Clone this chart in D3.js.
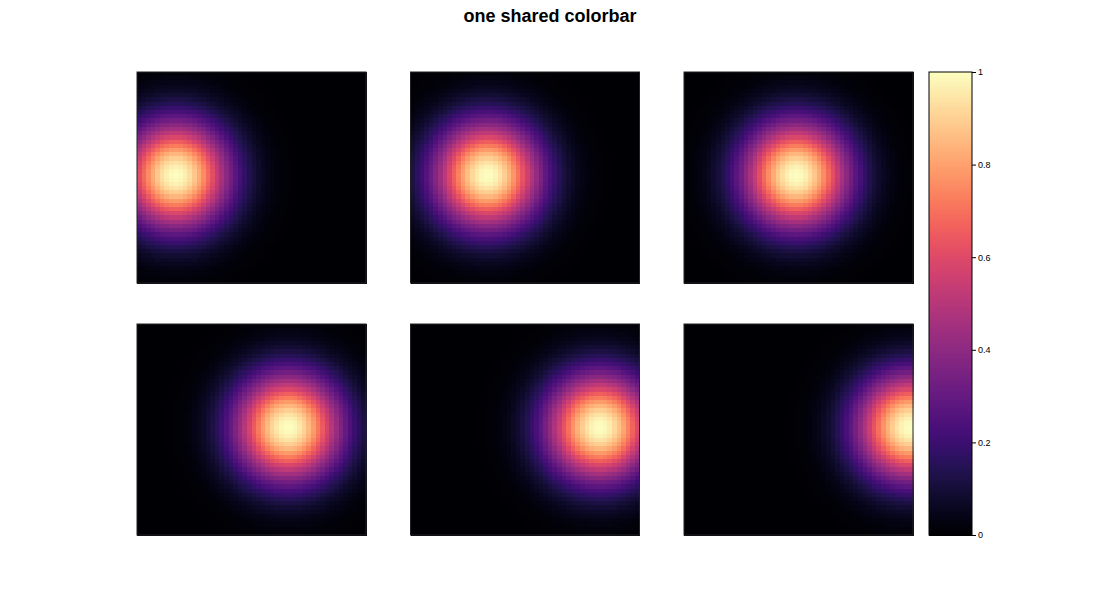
<!DOCTYPE html>
<html>
<head>
<meta charset="utf-8">
<script src="https://cdn.jsdelivr.net/npm/d3@7"></script>
<style>
  body { margin: 0; background: #fff; }
  text { font-family: "Liberation Sans", Arial, sans-serif; }
</style>
</head>
<body>
<svg width="1100" height="600"></svg>
<script>
// grid size of every heatmap (cells per side)
let nx = 50;
let ny = 50;

// blob centre of each panel, in cell units
let centreX = [8.5, 16.8, 24.5, 33.0, 41.3, 49.3];
let centreY = [24.5, 24.5, 24.5, 24.5, 24.5, 24.5];
// spread of the blob, in cells
let spreadX = [8.1, 8.1, 8.1, 8.1, 8.1, 8.1];
let spreadY = [8.8, 8.8, 8.8, 8.8, 8.8, 8.8];

let colorbarTicks = [0, 0.2, 0.4, 0.6, 0.8, 1];
let title = "one shared colorbar";

/******************/

let svg = d3.select("svg");

// panel layout
let panelW = 229, panelH = 211;
let panelX = d3.scalePoint().domain([0, 1, 2]).range([137, 684]);
let panelY = d3.scalePoint().domain([0, 1]).range([72, 324]);

let color = d3.scaleSequential(d3.interpolateMagma).domain([0, 1]);

// build cell table for each panel
let panels = centreX.map((cx, i) => {
  let cells = [];
  for (let r = 0; r < ny; r++) {
    for (let c = 0; c < nx; c++) {
      let dx = (c + 0.5 - cx) / spreadX[i];
      let dy = (r + 0.5 - centreY[i]) / spreadY[i];
      cells.push({col: c, row: r, value: Math.exp(-(dx * dx + dy * dy) / 2)});
    }
  }
  return {index: i, cells: cells};
});

let xCell = d3.scaleBand().domain(d3.range(nx)).range([0, panelW]);
let yCell = d3.scaleBand().domain(d3.range(ny)).range([0, panelH]);

let groups = svg.selectAll(".panel")
  .data(panels)
  .enter().append("g")
    .attr("class", "panel")
    .attr("transform", d => `translate(${panelX(d.index % 3)}, ${panelY(Math.floor(d.index / 3))})`);

groups.selectAll("rect.cell")
  .data(d => d.cells)
  .enter().append("rect")
    .attr("class", "cell")
    .attr("x", d => xCell(d.col))
    .attr("y", d => yCell(d.row))
    .attr("width", xCell.bandwidth() + 0.6)
    .attr("height", yCell.bandwidth() + 0.6)
    .attr("shape-rendering", "crispEdges")
    .attr("fill", d => color(d.value));

// frame round each panel
groups.append("rect")
  .attr("width", panelW)
  .attr("height", panelH)
  .attr("fill", "none")
  .attr("stroke", "#222")
  .attr("stroke-width", 1);

/******************/

// colorbar
let cbX = 929, cbW = 43;
let cbScale = d3.scaleLinear().domain([0, 1]).range([535, 72]);
let steps = d3.range(0, 1, 1 / 256);

svg.append("g").selectAll("rect")
  .data(steps)
  .enter().append("rect")
    .attr("x", cbX)
    .attr("y", d => cbScale(d + 1 / 256))
    .attr("width", cbW)
    .attr("height", cbScale(0) - cbScale(1 / 256) + 1)
    .attr("shape-rendering", "crispEdges")
    .attr("fill", d => color(d + 0.5 / 256));

svg.append("rect")
  .attr("x", cbX)
  .attr("y", cbScale(1))
  .attr("width", cbW)
  .attr("height", cbScale(0) - cbScale(1))
  .attr("fill", "none")
  .attr("stroke", "#000")
  .attr("stroke-width", 1);

let cbAxis = svg.append("g")
  .attr("transform", `translate(${cbX + cbW}, 0)`)
  .call(d3.axisRight(cbScale)
    .tickValues(colorbarTicks)
    .tickFormat(d3.format("~g"))
    .tickSize(4)
    .tickPadding(2));

cbAxis.select(".domain").remove();
cbAxis.selectAll("text")
  .style("font-family", "'Liberation Sans', Arial, sans-serif")
  .style("font-size", "9px")
  .attr("fill", "#000");

// title
svg.append("text")
  .attr("x", 550)
  .attr("y", 22)
  .attr("text-anchor", "middle")
  .style("font-size", "18px")
  .style("font-weight", "bold")
  .text(title);
</script>
</body>
</html>
